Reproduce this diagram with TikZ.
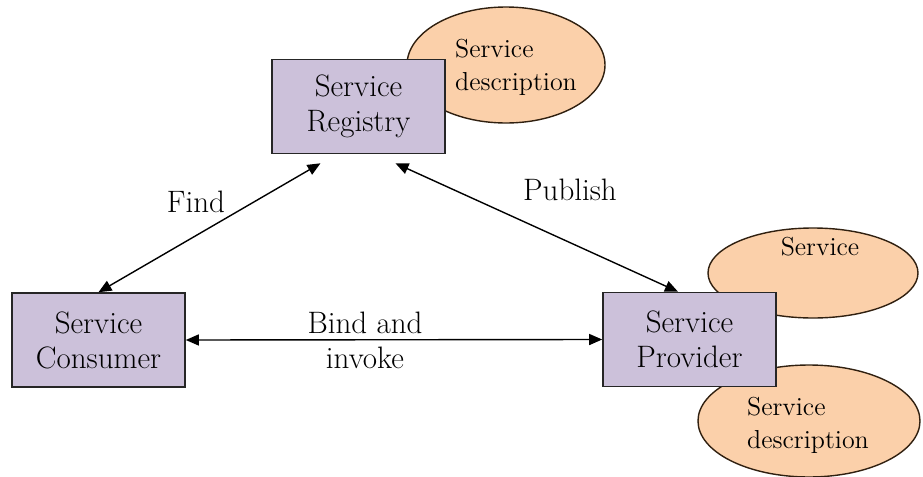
\documentclass[tikz,border=0pt]{standalone}
\usetikzlibrary{shapes.geometric,arrows.meta}
\definecolor{boxfill}{RGB}{204,193,218}
\definecolor{descfill}{RGB}{251,208,170}

\begin{document}
\begin{tikzpicture}[x=0.5pt, y=-0.5pt,
  actor/.style={draw=black!85, fill=boxfill, line width=0.8pt, minimum width=86.5pt, minimum height=47pt, align=center, font=\fontsize{15.5}{17.5}\selectfont},
  desc/.style={draw=black!75!brown, fill=descfill, ellipse, line width=0.7pt},
  desctext/.style={align=left, font=\fontsize{13}{16.5}\selectfont},
  lbl/.style={align=center, font=\fontsize{15.5}{17.5}\selectfont},
  >={Triangle[length=6.5pt, width=5.5pt]}]
\useasboundingbox (0,0) rectangle (923,477);

 % descriptions
\node[desc, minimum width=99pt, minimum height=58pt] (regdesc) at (506,65) {};
\node[desc, minimum width=105pt, minimum height=45pt] (service) at (813,273) {};
\node[desc, minimum width=111pt, minimum height=56pt] (provdesc) at (809,421) {};
\node[desctext] (regdesctext) at (516,67) {Service\\description};
\node[desctext] (servicetext) at (820,247) {Service};
\node[desctext] (provdesctext) at (808,425) {Service\\description};

 % actors
\node[actor] (registry) at (358.5,106.5) {Service\\Registry};
\node[actor] (consumer) at (98.5,340) {Service\\Consumer};
\node[actor] (provider) at (689.5,339.5) {Service\\Provider};

 % arrows
\draw[<->, line width=0.7pt] (consumer.north) -- ([xshift=-19pt, yshift=-4.5pt]registry.south);
\draw[<->, line width=0.7pt] ([xshift=18.5pt, yshift=-4.5pt]registry.south) -- ([xshift=-5.75pt]provider.north);
\draw[<->, line width=0.7pt] (consumer.east) -- (provider.west);

\node[lbl] (find) at (196,202) {Find};
\node[lbl] (publish) at (570,190) {Publish};
\node[lbl] (bind) at (365,340) {Bind and\\invoke};
\end{tikzpicture}
\end{document}
